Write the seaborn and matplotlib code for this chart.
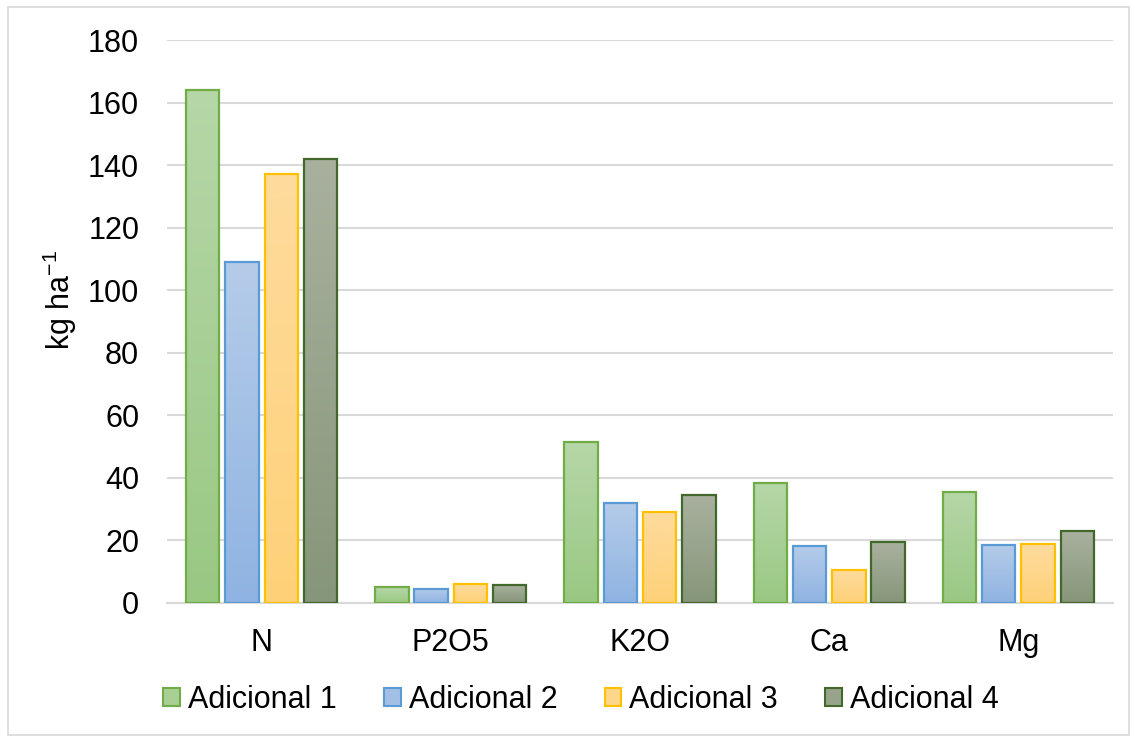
import numpy as np
import pandas as pd
import matplotlib
matplotlib.use("Agg")
import matplotlib.pyplot as plt
from matplotlib.patches import Patch, Rectangle
from matplotlib.colors import LinearSegmentedColormap
import seaborn as sns

# Nutrient amounts (kg ha-1) for each additional treatment
nutrients = ["N", "P2O5", "K2O", "Ca", "Mg"]
series = ["Adicional 1", "Adicional 2", "Adicional 3", "Adicional 4"]
adicional_1 = [164, 5, 51.5, 38.5, 35.5]
adicional_2 = [109, 4.5, 32, 18.3, 18.6]
adicional_3 = [137, 6, 29, 10.5, 18.8]
adicional_4 = [142, 5.8, 34.5, 19.5, 23]
y_ticks = [0, 20, 40, 60, 80, 100, 120, 140, 160, 180]

# Fill gradients (top, bottom) and outlines per series
grad_top = ["#b6d7a8", "#b5cce9", "#fedb9d", "#a9b19e"]
grad_bot = ["#99c883", "#8fb3e2", "#fed178", "#86967a"]
edges = ["#70ad47", "#5b9bd5", "#ffc000", "#43682b"]

df = pd.DataFrame({
    "Nutriente": np.repeat(nutrients, len(series)).tolist(),
    "Serie": series * len(nutrients),
    "Valor": [v for vals in zip(adicional_1, adicional_2, adicional_3, adicional_4) for v in vals],
})

sns.set_theme(style="white")
plt.rcParams["font.family"] = ["Liberation Sans", "DejaVu Sans"]
plt.rcParams["mathtext.fontset"] = "custom"
plt.rcParams["mathtext.rm"] = "Liberation Sans"
plt.rcParams["mathtext.it"] = "Liberation Sans"
plt.rcParams["text.color"] = "black"

fig = plt.figure(figsize=(11.35, 7.4), dpi=100)
ax = fig.add_axes([167 / 1135, 1 - 603 / 740, (1113 - 167) / 1135, (603 - 40) / 740])

mid_colors = [tuple((np.array(matplotlib.colors.to_rgb(a)) + np.array(matplotlib.colors.to_rgb(b))) / 2)
              for a, b in zip(grad_top, grad_bot)]
sns.barplot(data=df, x="Nutriente", y="Valor", hue="Serie", order=nutrients,
            hue_order=series, palette=mid_colors, width=0.83, gap=0.15,
            ax=ax, legend=False, zorder=3)

# Vertical gradient inside each bar, clipped to the bar outline
grad = np.linspace(0, 1, 256).reshape(-1, 1)
for i, cont in enumerate(ax.containers):
    cmap = LinearSegmentedColormap.from_list(f"g{i}", [grad_bot[i], grad_top[i]])
    for bar in cont:
        x0, y0 = bar.get_x(), bar.get_y()
        w, h = bar.get_width(), bar.get_height()
        im = ax.imshow(grad, cmap=cmap, origin="lower", aspect="auto",
                       extent=[x0, x0 + w, y0, y0 + h], zorder=3.5, interpolation="bilinear")
        im.set_clip_path(bar)
        bar.set_facecolor("none")
        bar.set_edgecolor(edges[i])
        bar.set_linewidth(1.6)
        bar.set_zorder(4)

ax.set_xlim(-0.5, len(nutrients) - 0.5)
ax.set_ylim(0, 180)
ax.set_yticks(y_ticks)
ax.set_yticklabels([str(t) for t in y_ticks])
ax.yaxis.grid(True, color="#d9d9d9", linewidth=1.5, zorder=0)
ax.set_axisbelow(True)
for s in ["top", "right", "left"]:
    ax.spines[s].set_visible(False)
ax.spines["bottom"].set_color("#d9d9d9")
ax.spines["bottom"].set_linewidth(1.5)
ax.spines["bottom"].set_zorder(2)
ax.tick_params(axis="y", length=0, pad=20, labelsize=22, colors="black")
ax.tick_params(axis="x", length=0, pad=18, labelsize=22, colors="black")
ax.set_xlabel("")
ax.set_ylabel("")
fig.text(60 / 1135, 1 - 300 / 740, "kg ha$^{-1}$", rotation=90, ha="center", va="center",
         fontsize=22, color="black")

handles = [Patch(facecolor=mid_colors[i], edgecolor=edges[i], linewidth=1.5, label=series[i])
           for i in range(len(series))]
fig.legend(handles=handles, loc="center", bbox_to_anchor=(581 / 1135, 1 - 700 / 740), ncol=4,
           frameon=False, fontsize=22, handlelength=0.55, handleheight=0.55,
           handletextpad=0.26, columnspacing=1.55, labelcolor="black")

# Chart area border
fig.patches.append(Rectangle((8 / 1135, 5 / 740), 1121 / 1135, 728 / 740, transform=fig.transFigure,
                             fill=False, edgecolor="#d9d9d9", linewidth=1.2))

fig.savefig("out.png", dpi=100, facecolor="white")
